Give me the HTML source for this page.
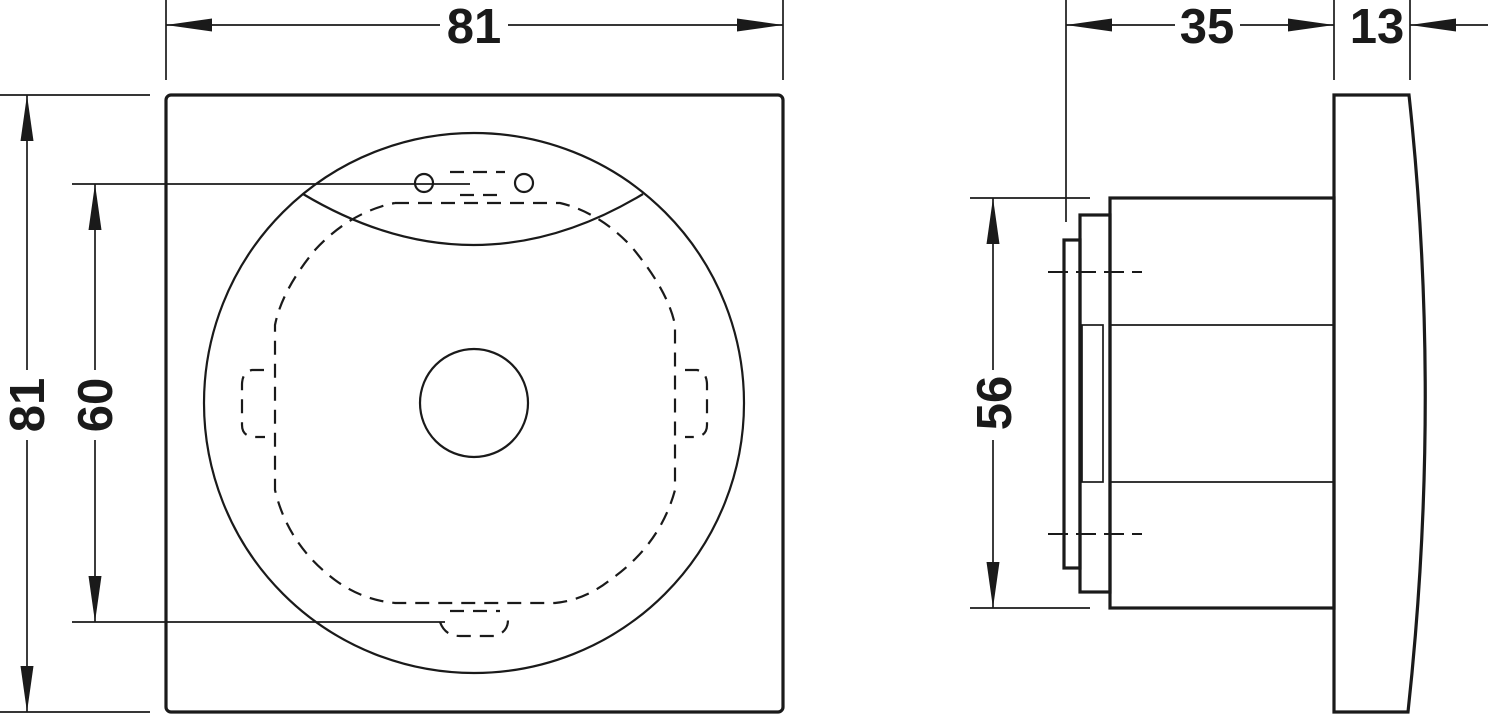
<!DOCTYPE html>
<html><head><style>html,body{margin:0;padding:0;background:#fff}svg{display:block}</style></head>
<body>
<svg width="1488" height="715" viewBox="0 0 1488 715" xmlns="http://www.w3.org/2000/svg">
<defs>
<marker id="b" viewBox="0 0 46 13" refX="46" refY="6.5" markerWidth="46" markerHeight="13" markerUnits="userSpaceOnUse" orient="auto-start-reverse"><path d="M0,0 L46,6.5 L0,13 Z" fill="#1a1a1a"/></marker>
</defs>
<g stroke="#1a1a1a" fill="none" stroke-width="1.7">
<line x1="166" y1="0" x2="166" y2="80"/><line x1="783" y1="0" x2="783" y2="80"/>
<line x1="0" y1="95" x2="150" y2="95"/><line x1="0" y1="712" x2="150" y2="712"/>
<line x1="72" y1="184" x2="470" y2="184"/><line x1="72" y1="622" x2="445" y2="622"/>
<line x1="166" y1="25" x2="440" y2="25" marker-start="url(#b)"/><line x1="508" y1="25" x2="783" y2="25" marker-end="url(#b)"/>
<line x1="27" y1="95" x2="27" y2="370" marker-start="url(#b)"/><line x1="27" y1="440" x2="27" y2="712" marker-end="url(#b)"/>
<line x1="95" y1="184" x2="95" y2="370" marker-start="url(#b)"/><line x1="95" y1="440" x2="95" y2="622" marker-end="url(#b)"/>
<line x1="1066" y1="0" x2="1066" y2="222"/><line x1="1334" y1="0" x2="1334" y2="80"/><line x1="1410" y1="0" x2="1410" y2="80"/>
<line x1="970" y1="198" x2="1090" y2="198"/><line x1="970" y1="608" x2="1090" y2="608"/>
<line x1="1066" y1="25" x2="1175" y2="25" marker-start="url(#b)"/><line x1="1240" y1="25" x2="1334" y2="25" marker-end="url(#b)"/>
<line x1="1410" y1="25" x2="1488" y2="25" marker-start="url(#b)"/>
<line x1="993" y1="198" x2="993" y2="370" marker-start="url(#b)"/><line x1="993" y1="440" x2="993" y2="608" marker-end="url(#b)"/>
<rect x="166" y="95" width="617" height="617" rx="5" stroke-width="3.2"/>
<circle cx="474" cy="403" r="270" stroke-width="2.2"/>
<path d="M303,194 Q474,296 643,194" stroke-width="2.2"/>
<circle cx="474" cy="403" r="54" stroke-width="2.2"/>
<circle cx="424" cy="183" r="9" stroke-width="2.2"/><circle cx="524" cy="183" r="9" stroke-width="2.2"/>
<g stroke-dasharray="14,9" stroke-width="2.2">
<path d="M395,203 H560 Q598,212 630,245 Q668,290 675,325 V490 Q660,545 610,580 Q585,600 555,603 H395 Q362,600 335,580 Q288,545 275,490 V325 Q282,290 315,250 Q350,212 395,203"/>
<line x1="450" y1="172" x2="505" y2="172"/><line x1="460" y1="195" x2="500" y2="195"/>
<path d="M264,370 H252 Q242,372 242,385 V425 Q242,437 256,437 H265"/>
<path d="M685,370 H697 Q707,372 707,385 V425 Q707,437 693,437 H685"/>
<path d="M440,622 Q445,636 460,636 H495 Q508,632 508,620"/>
<line x1="450" y1="611" x2="500" y2="611"/>
</g>
<path d="M1334,95 H1409 Q1442,400 1408,712 H1334 Z" stroke-width="3.2"/>
<rect x="1110" y="198" width="224" height="410" stroke-width="3.2"/>
<line x1="1110" y1="325" x2="1334" y2="325"/><line x1="1110" y1="482" x2="1334" y2="482"/>
<rect x="1080" y="215" width="30" height="377" stroke-width="3.2"/>
<rect x="1064" y="240" width="16" height="328" stroke-width="3.2"/>
<rect x="1082" y="325" width="21" height="157"/>
<g stroke-dasharray="20,8" stroke-width="2"><line x1="1048" y1="272" x2="1142" y2="272"/><line x1="1048" y1="534" x2="1142" y2="534"/></g>
</g>
<g font-family="Liberation Sans, sans-serif" font-weight="bold" font-size="49" fill="#1a1a1a" text-anchor="middle">
<text x="474" y="43">81</text>
<text x="1207" y="43">35</text>
<text x="1377" y="43">13</text>
<text transform="translate(44,405) rotate(-90)">81</text>
<text transform="translate(112,405) rotate(-90)">60</text>
<text transform="translate(1011,403) rotate(-90)">56</text>
</g>
</svg>
</body></html>
